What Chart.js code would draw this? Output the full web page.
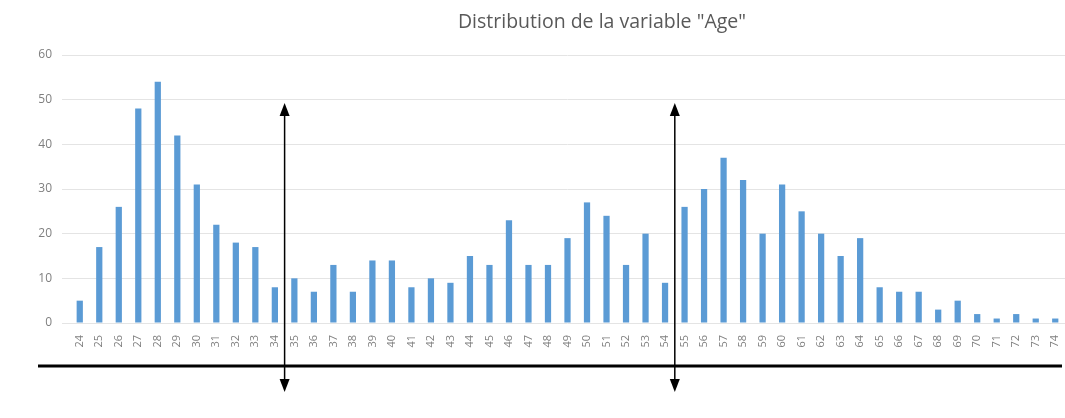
<!DOCTYPE html>
<html lang="fr">
  <head>
    <meta charset="UTF-8" />
    <title>Distribution de la variable "Age"</title>
    <style>
      html, body { margin: 0; padding: 0; background: #fff; }
      #wrap { width: 1065px; height: 418px; }
    </style>
  </head>
  <body>
    <div id="wrap">
      <canvas id="myChart"></canvas>
    </div>
    <script src="https://cdn.jsdelivr.net/npm/chart.js@4.4.1/dist/chart.umd.min.js"></script>
    <script>
      const titleText = 'Distribution de la variable "Age"';
      const ages = [
        "24", "25", "26", "27", "28", "29", "30", "31", "32", "33",
        "34", "35", "36", "37", "38", "39", "40", "41", "42", "43",
        "44", "45", "46", "47", "48", "49", "50", "51", "52", "53",
        "54", "55", "56", "57", "58", "59", "60", "61", "62", "63",
        "64", "65", "66", "67", "68", "69", "70", "71", "72", "73", "74",
      ];
      const counts = [
        5, 17, 26, 48, 54, 42, 31, 22, 18, 17,
        8, 10, 7, 13, 7, 14, 14, 8, 10, 9,
        15, 13, 23, 13, 13, 19, 27, 24, 13, 20,
        9, 26, 30, 37, 32, 20, 31, 25, 20, 15,
        19, 8, 7, 7, 3, 5, 2, 1, 2, 1, 1,
      ];
      // arrows are drawn between these pairs of ages
      const splitAfter = ["34", "54"];

      const fontFamily = "'Open Sans', 'Liberation Sans', sans-serif";
      const grey = "#7f7f7f";

      const overlay = {
        id: "overlay",
        afterDraw(chart) {
          const c = chart.ctx;
          const x = chart.scales.x;

          // title
          c.save();
          c.fillStyle = "#595959";
          c.font = "19.5px " + fontFamily;
          c.textAlign = "center";
          c.textBaseline = "middle";
          c.fillText(titleText, 602, 22);

          // thick horizontal line
          c.strokeStyle = "#000";
          c.lineWidth = 3;
          c.beginPath();
          c.moveTo(38, 366);
          c.lineTo(1062, 366);
          c.stroke();

          // double arrows
          splitAfter.forEach((age) => {
            const i = ages.indexOf(age);
            const px = (x.getPixelForValue(i) + x.getPixelForValue(i + 1)) / 2;
            const top = 103, bottom = 392, head = 13, half = 5;
            c.lineWidth = 1.5;
            c.beginPath();
            c.moveTo(px, top + head);
            c.lineTo(px, bottom - head);
            c.stroke();
            c.fillStyle = "#000";
            c.beginPath();
            c.moveTo(px, top);
            c.lineTo(px - half, top + head);
            c.lineTo(px + half, top + head);
            c.closePath();
            c.fill();
            c.beginPath();
            c.moveTo(px, bottom);
            c.lineTo(px - half, bottom - head);
            c.lineTo(px + half, bottom - head);
            c.closePath();
            c.fill();
          });
          c.restore();
        },
      };

      const ctx = document.getElementById("myChart").getContext("2d");

      const myChart = new Chart(ctx, {
        type: "bar",
        data: {
          labels: ages,
          datasets: [
            {
              label: "Age",
              data: counts,
              backgroundColor: "#5b9bd5",
              borderWidth: 0,
              barPercentage: 0.32,
              categoryPercentage: 1,
            },
          ],
        },
        options: {
          responsive: true,
          maintainAspectRatio: false,
          animation: false,
          layout: {
            padding: { top: 55, left: 30, right: 0, bottom: 65 },
          },
          plugins: {
            legend: { display: false },
            title: { display: false },
            tooltip: { enabled: false },
          },
          scales: {
            x: {
              grid: { display: false },
              border: { display: false },
              ticks: {
                color: grey,
                font: { family: fontFamily, size: 11 },
                minRotation: 90,
                maxRotation: 90,
                autoSkip: false,
                padding: 4,
              },
              afterFit(s) {
                s.height = 30;
                s.paddingLeft = 0;
                s.paddingRight = 0;
              },
            },
            y: {
              min: 0,
              max: 60,
              grid: { color: "#e4e4e4", lineWidth: 1 },
              border: { display: false },
              ticks: {
                stepSize: 10,
                color: grey,
                font: { family: fontFamily, size: 12 },
                padding: 10,
              },
              afterFit(s) {
                s.width = 40;
              },
            },
          },
        },
        plugins: [overlay],
      });
    </script>
  </body>
</html>
